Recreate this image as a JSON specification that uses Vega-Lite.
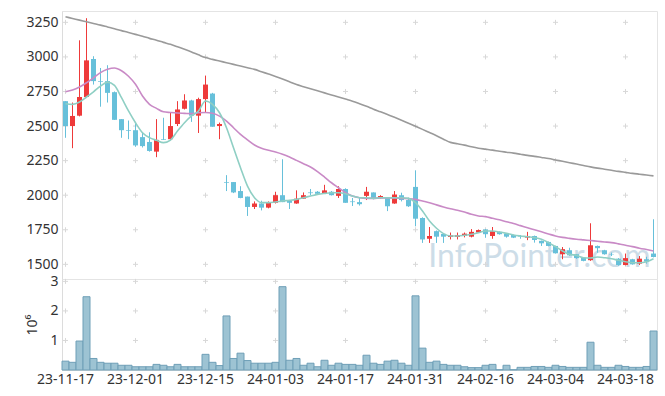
{
  "$schema": "https://vega.github.io/schema/vega-lite/v6.json",
  "autosize": {"type": "pad"},
  "padding": {"left": 25, "top": 10, "right": 9, "bottom": 0},
  "background": "white",
  "bounds": "flush",
  "config": {
    "view": {"stroke": "#e4e4e4"},
    "font": "Noto Sans",
    "axis": {"labelFont": "Noto Sans", "labelFontSize": 14, "labelColor": "#333", "domainColor": "#dcdcdc", "ticks": false, "grid": false, "titleFont": "Noto Sans", "labelOverlap": false}
  },
  "datasets": {
    "p": [
      {"d":"23-11-17","o":2680,"h":2680,"l":2415,"c":2500,"v":0.30,"m5":2661,"m20":2748,"m60":3290},
      {"d":"23-11-20","o":2500,"h":2670,"l":2340,"c":2573,"v":0.26,"m5":2657,"m20":2760,"m60":3278},
      {"d":"23-11-21","o":2575,"h":3120,"l":2570,"c":2710,"v":0.98,"m5":2674,"m20":2782,"m60":3266},
      {"d":"23-11-22","o":2710,"h":3280,"l":2710,"c":2975,"v":2.48,"m5":2710,"m20":2813,"m60":3254},
      {"d":"23-11-23","o":2985,"h":3005,"l":2800,"c":2825,"v":0.39,"m5":2748,"m20":2849,"m60":3242},
      {"d":"23-11-24","o":2825,"h":2920,"l":2640,"c":2820,"v":0.26,"m5":2789,"m20":2886,"m60":3230},
      {"d":"23-11-27","o":2825,"h":2940,"l":2670,"c":2740,"v":0.23,"m5":2818,"m20":2910,"m60":3217},
      {"d":"23-11-28","o":2745,"h":2750,"l":2545,"c":2545,"v":0.23,"m5":2794,"m20":2920,"m60":3204},
      {"d":"23-11-29","o":2550,"h":2550,"l":2415,"c":2470,"v":0.16,"m5":2705,"m20":2900,"m60":3190},
      {"d":"23-11-30","o":2470,"h":2540,"l":2405,"c":2465,"v":0.16,"m5":2609,"m20":2860,"m60":3177},
      {"d":"23-12-01","o":2470,"h":2515,"l":2350,"c":2360,"v":0.11,"m5":2524,"m20":2802,"m60":3163},
      {"d":"23-12-04","o":2420,"h":2455,"l":2345,"c":2355,"v":0.11,"m5":2452,"m20":2717,"m60":3149},
      {"d":"23-12-05","o":2385,"h":2455,"l":2315,"c":2320,"v":0.11,"m5":2416,"m20":2657,"m60":3134},
      {"d":"23-12-06","o":2315,"h":2550,"l":2275,"c":2400,"v":0.19,"m5":2397,"m20":2628,"m60":3120},
      {"d":"23-12-07","o":2405,"h":2560,"l":2400,"c":2400,"v":0.16,"m5":2380,"m20":2603,"m60":3105},
      {"d":"23-12-08","o":2405,"h":2595,"l":2400,"c":2500,"v":0.11,"m5":2399,"m20":2598,"m60":3091},
      {"d":"23-12-11","o":2515,"h":2680,"l":2500,"c":2620,"v":0.19,"m5":2464,"m20":2594,"m60":3073},
      {"d":"23-12-12","o":2625,"h":2730,"l":2620,"c":2685,"v":0.11,"m5":2524,"m20":2592,"m60":3055},
      {"d":"23-12-13","o":2685,"h":2690,"l":2530,"c":2575,"v":0.11,"m5":2573,"m20":2590,"m60":3036},
      {"d":"23-12-14","o":2575,"h":2705,"l":2450,"c":2695,"v":0.11,"m5":2609,"m20":2596,"m60":3015},
      {"d":"23-12-15","o":2695,"h":2865,"l":2595,"c":2800,"v":0.53,"m5":2681,"m20":2598,"m60":2995},
      {"d":"23-12-18","o":2735,"h":2740,"l":2495,"c":2495,"v":0.26,"m5":2657,"m20":2592,"m60":2982},
      {"d":"23-12-19","o":2500,"h":2525,"l":2405,"c":2515,"v":0.15,"m5":2596,"m20":2572,"m60":2970},
      {"d":"23-12-20","o":2095,"h":2145,"l":2030,"c":2090,"v":1.83,"m5":2488,"m20":2536,"m60":2958},
      {"d":"23-12-21","o":2095,"h":2095,"l":2015,"c":2020,"v":0.39,"m5":2343,"m20":2488,"m60":2946},
      {"d":"23-12-22","o":2030,"h":2065,"l":1978,"c":1980,"v":0.57,"m5":2199,"m20":2440,"m60":2934},
      {"d":"23-12-26","o":1990,"h":1990,"l":1850,"c":1915,"v":0.32,"m5":2066,"m20":2400,"m60":2922},
      {"d":"23-12-27","o":1915,"h":1955,"l":1900,"c":1940,"v":0.23,"m5":1982,"m20":2363,"m60":2910},
      {"d":"23-12-28","o":1940,"h":1960,"l":1890,"c":1910,"v":0.23,"m5":1946,"m20":2339,"m60":2893},
      {"d":"24-01-02","o":1910,"h":1955,"l":1905,"c":1950,"v":0.23,"m5":1946,"m20":2325,"m60":2876},
      {"d":"24-01-03","o":1945,"h":2025,"l":1940,"c":2000,"v":0.26,"m5":1951,"m20":2312,"m60":2859},
      {"d":"24-01-04","o":2000,"h":2260,"l":1950,"c":1950,"v":2.82,"m5":1958,"m20":2296,"m60":2840},
      {"d":"24-01-05","o":1960,"h":1960,"l":1900,"c":1945,"v":0.33,"m5":1963,"m20":2276,"m60":2820},
      {"d":"24-01-08","o":1940,"h":2035,"l":1938,"c":1975,"v":0.39,"m5":1970,"m20":2252,"m60":2800},
      {"d":"24-01-09","o":1975,"h":2020,"l":1975,"c":2000,"v":0.16,"m5":1982,"m20":2228,"m60":2785},
      {"d":"24-01-10","o":2020,"h":2045,"l":2000,"c":2015,"v":0.23,"m5":1994,"m20":2204,"m60":2770},
      {"d":"24-01-11","o":2025,"h":2030,"l":2008,"c":2010,"v":0.11,"m5":2006,"m20":2170,"m60":2755},
      {"d":"24-01-12","o":2010,"h":2075,"l":2010,"c":2035,"v":0.33,"m5":2013,"m20":2131,"m60":2740},
      {"d":"24-01-15","o":2025,"h":2030,"l":1998,"c":2000,"v":0.16,"m5":2018,"m20":2090,"m60":2725},
      {"d":"24-01-16","o":1995,"h":2065,"l":1980,"c":2045,"v":0.23,"m5":2018,"m20":2054,"m60":2710},
      {"d":"24-01-17","o":2045,"h":2050,"l":1945,"c":1945,"v":0.19,"m5":2011,"m20":2018,"m60":2695},
      {"d":"24-01-18","o":1955,"h":1980,"l":1922,"c":1950,"v":0.19,"m5":1994,"m20":1994,"m60":2680},
      {"d":"24-01-19","o":1950,"h":1980,"l":1925,"c":1935,"v":0.16,"m5":1982,"m20":1982,"m60":2662},
      {"d":"24-01-22","o":1995,"h":2060,"l":1965,"c":2025,"v":0.50,"m5":1982,"m20":1977,"m60":2643},
      {"d":"24-01-23","o":2020,"h":2020,"l":1970,"c":1975,"v":0.23,"m5":1977,"m20":1977,"m60":2622},
      {"d":"24-01-24","o":1978,"h":2000,"l":1975,"c":1994,"v":0.19,"m5":1982,"m20":1980,"m60":2603},
      {"d":"24-01-25","o":1982,"h":1985,"l":1885,"c":1920,"v":0.30,"m5":1982,"m20":1980,"m60":2583},
      {"d":"24-01-26","o":1940,"h":2030,"l":1938,"c":2005,"v":0.33,"m5":1982,"m20":1980,"m60":2563},
      {"d":"24-01-29","o":2000,"h":2018,"l":1955,"c":1965,"v":0.23,"m5":1982,"m20":1977,"m60":2542},
      {"d":"24-01-30","o":1965,"h":1982,"l":1915,"c":1920,"v":0.16,"m5":1977,"m20":1975,"m60":2520},
      {"d":"24-01-31","o":2060,"h":2180,"l":1775,"c":1830,"v":2.51,"m5":1946,"m20":1970,"m60":2498},
      {"d":"24-02-01","o":1835,"h":1840,"l":1655,"c":1680,"v":0.74,"m5":1886,"m20":1958,"m60":2476},
      {"d":"24-02-02","o":1685,"h":1770,"l":1655,"c":1705,"v":0.26,"m5":1813,"m20":1946,"m60":2453},
      {"d":"24-02-05","o":1740,"h":1745,"l":1655,"c":1700,"v":0.30,"m5":1761,"m20":1930,"m60":2430},
      {"d":"24-02-06","o":1720,"h":1725,"l":1655,"c":1700,"v":0.19,"m5":1722,"m20":1915,"m60":2405},
      {"d":"24-02-07","o":1698,"h":1730,"l":1680,"c":1710,"v":0.16,"m5":1705,"m20":1902,"m60":2382},
      {"d":"24-02-08","o":1698,"h":1730,"l":1680,"c":1712,"v":0.16,"m5":1705,"m20":1891,"m60":2372},
      {"d":"24-02-13","o":1705,"h":1730,"l":1695,"c":1722,"v":0.11,"m5":1710,"m20":1878,"m60":2362},
      {"d":"24-02-14","o":1700,"h":1755,"l":1695,"c":1735,"v":0.08,"m5":1717,"m20":1862,"m60":2350},
      {"d":"24-02-15","o":1730,"h":1752,"l":1728,"c":1748,"v":0.08,"m5":1729,"m20":1850,"m60":2340},
      {"d":"24-02-16","o":1752,"h":1755,"l":1692,"c":1718,"v":0.16,"m5":1741,"m20":1845,"m60":2333},
      {"d":"24-02-19","o":1705,"h":1770,"l":1685,"c":1740,"v":0.19,"m5":1741,"m20":1833,"m60":2326},
      {"d":"24-02-20","o":1735,"h":1738,"l":1715,"c":1718,"v":0.01,"m5":1734,"m20":1822,"m60":2318},
      {"d":"24-02-21","o":1722,"h":1725,"l":1693,"c":1700,"v":0.16,"m5":1724,"m20":1808,"m60":2311},
      {"d":"24-02-22","o":1712,"h":1715,"l":1690,"c":1693,"v":0.01,"m5":1712,"m20":1795,"m60":2304},
      {"d":"24-02-23","o":1702,"h":1712,"l":1685,"c":1698,"v":0.09,"m5":1705,"m20":1780,"m60":2296},
      {"d":"24-02-26","o":1693,"h":1735,"l":1675,"c":1705,"v":0.09,"m5":1700,"m20":1765,"m60":2288},
      {"d":"24-02-27","o":1705,"h":1708,"l":1657,"c":1676,"v":0.12,"m5":1693,"m20":1750,"m60":2281},
      {"d":"24-02-28","o":1670,"h":1672,"l":1633,"c":1652,"v":0.12,"m5":1681,"m20":1735,"m60":2273},
      {"d":"24-02-29","o":1662,"h":1665,"l":1630,"c":1633,"v":0.09,"m5":1657,"m20":1720,"m60":2265},
      {"d":"24-03-04","o":1633,"h":1635,"l":1578,"c":1580,"v":0.16,"m5":1628,"m20":1705,"m60":2255},
      {"d":"24-03-05","o":1573,"h":1625,"l":1537,"c":1610,"v":0.12,"m5":1597,"m20":1695,"m60":2245},
      {"d":"24-03-06","o":1602,"h":1620,"l":1562,"c":1565,"v":0.09,"m5":1573,"m20":1688,"m60":2235},
      {"d":"24-03-07","o":1573,"h":1575,"l":1540,"c":1545,"v":0.09,"m5":1565,"m20":1682,"m60":2225},
      {"d":"24-03-08","o":1548,"h":1550,"l":1522,"c":1525,"v":0.09,"m5":1548,"m20":1677,"m60":2215},
      {"d":"24-03-11","o":1530,"h":1797,"l":1525,"c":1638,"v":0.94,"m5":1546,"m20":1672,"m60":2205},
      {"d":"24-03-12","o":1633,"h":1636,"l":1584,"c":1617,"v":0.16,"m5":1553,"m20":1667,"m60":2196},
      {"d":"24-03-13","o":1602,"h":1605,"l":1570,"c":1573,"v":0.09,"m5":1548,"m20":1662,"m60":2188},
      {"d":"24-03-14","o":1575,"h":1585,"l":1560,"c":1572,"v":0.09,"m5":1541,"m20":1657,"m60":2180},
      {"d":"24-03-15","o":1541,"h":1545,"l":1490,"c":1495,"v":0.16,"m5":1529,"m20":1648,"m60":2172},
      {"d":"24-03-18","o":1495,"h":1578,"l":1493,"c":1545,"v":0.12,"m5":1519,"m20":1638,"m60":2165},
      {"d":"24-03-19","o":1537,"h":1540,"l":1498,"c":1500,"v":0.09,"m5":1512,"m20":1628,"m60":2158},
      {"d":"24-03-20","o":1505,"h":1560,"l":1495,"c":1541,"v":0.09,"m5":1512,"m20":1617,"m60":2152},
      {"d":"24-03-21","o":1537,"h":1555,"l":1505,"c":1520,"v":0.12,"m5":1519,"m20":1607,"m60":2146},
      {"d":"24-03-22","o":1578,"h":1826,"l":1550,"c":1553,"v":1.32,"m5":1541,"m20":1597,"m60":2140}
    ],
    "g": [
      {"d":"23-11-17","ys":[1500,1750,2000,2250,2500,2750,3000,3250],"vs":[1,2,3]},
      {"d":"23-12-01","ys":[1500,1750,2000,2250,2500,2750,3000,3250],"vs":[1,2,3]},
      {"d":"23-12-15","ys":[1500,1750,2000,2250,2500,2750,3000,3250],"vs":[1,2,3]},
      {"d":"24-01-03","ys":[1500,1750,2000,2250,2500,2750,3000,3250],"vs":[1,2,3]},
      {"d":"24-01-17","ys":[1500,1750,2000,2250,2500,2750,3000,3250],"vs":[1,2,3]},
      {"d":"24-01-31","ys":[1500,1750,2000,2250,2500,2750,3000,3250],"vs":[1,2,3]},
      {"d":"24-02-16","ys":[1500,1750,2000,2250,2500,2750,3000,3250],"vs":[1,2,3]},
      {"d":"24-03-04","ys":[1500,1750,2000,2250,2500,2750,3000,3250],"vs":[1,2,3]},
      {"d":"24-03-18","ys":[1500,1750,2000,2250,2500,2750,3000,3250],"vs":[1,2,3]}
    ]
  },
  "spacing": 0,
  "vconcat": [
    {
      "width": 595,
      "height": 268,
      "data": {"name": "p"},
      "encoding": {
        "x": {"field": "d", "type": "ordinal", "scale": {"paddingInner": 0, "paddingOuter": 0}, "axis": null}
      },
      "layer": [
        {
          "data": {"values": [{}]},
          "mark": {"type": "text", "align": "right", "baseline": "alphabetic", "dx": -3, "font": "Lato", "fontSize": 32, "color": "#cddde8"},
          "encoding": {
            "x": {"datum": "24-03-22", "type": "ordinal"},
            "y": {"datum": 1481, "type": "quantitative", "axis": {"values": [1500,1750,2000,2250,2500,2750,3000,3250], "format": "d", "title": null, "labelPadding": 4}},
            "text": {"value": "InfoPointer.com"}
          }
        },
        {
          "data": {"name": "g"},
          "transform": [{"flatten": ["ys"]}],
          "mark": {"type": "point", "shape": "M-1,0H1M0,-1V1", "size": 25, "stroke": "#d8d8d8", "strokeWidth": 1, "filled": false, "opacity": 1},
          "encoding": {
            "x": {"field": "d", "type": "ordinal"},
            "y": {"field": "ys", "type": "quantitative", "axis": {"values": [1500,1750,2000,2250,2500,2750,3000,3250], "format": "d", "title": null, "labelPadding": 4}}
          }
        },
        {
          "mark": {"type": "rule", "strokeWidth": 1},
          "encoding": {
            "y": {"field": "l", "type": "quantitative", "scale": {"domain": [1394, 3332], "nice": false, "zero": false},
                  "axis": {"values": [1500,1750,2000,2250,2500,2750,3000,3250], "format": "d", "title": null, "labelPadding": 4}},
            "y2": {"field": "h"},
            "color": {"condition": {"test": "datum.c >= datum.o", "value": "#ee3a3a"}, "value": "#67c0da"}
          }
        },
        {
          "mark": {"type": "bar", "size": 5},
          "encoding": {
            "y": {"field": "o", "type": "quantitative", "axis": {"values": [1500,1750,2000,2250,2500,2750,3000,3250], "format": "d", "title": null, "labelPadding": 4}},
            "y2": {"field": "c"},
            "color": {"condition": {"test": "datum.c >= datum.o", "value": "#ee3a3a"}, "value": "#67c0da"}
          }
        },
        {
          "mark": {"type": "line", "color": "#9a9a9a", "strokeWidth": 1.6, "interpolate": "monotone"},
          "encoding": {"y": {"field": "m60", "type": "quantitative", "axis": {"values": [1500,1750,2000,2250,2500,2750,3000,3250], "format": "d", "title": null, "labelPadding": 4}}}
        },
        {
          "mark": {"type": "line", "color": "#c98ac6", "strokeWidth": 1.6, "interpolate": "monotone"},
          "encoding": {"y": {"field": "m20", "type": "quantitative", "axis": {"values": [1500,1750,2000,2250,2500,2750,3000,3250], "format": "d", "title": null, "labelPadding": 4}}}
        },
        {
          "mark": {"type": "line", "color": "#8fcfc4", "strokeWidth": 1.6, "interpolate": "monotone"},
          "encoding": {"y": {"field": "m5", "type": "quantitative", "axis": {"values": [1500,1750,2000,2250,2500,2750,3000,3250], "format": "d", "title": null, "labelPadding": 4}}}
        }
      ]
    },
    {
      "width": 595,
      "height": 91,
      "data": {"name": "p"},
      "encoding": {
        "x": {"field": "d", "type": "ordinal", "scale": {"paddingInner": 0, "paddingOuter": 0},
              "axis": {"values": ["23-11-17","23-12-01","23-12-15","24-01-03","24-01-17","24-01-31","24-02-16","24-03-04","24-03-18"], "labelAngle": 0, "title": null, "labelPadding": 2}}
      },
      "layer": [
        {
          "data": {"name": "g"},
          "transform": [{"flatten": ["vs"]}],
          "mark": {"type": "point", "shape": "M-1,0H1M0,-1V1", "size": 25, "stroke": "#d8d8d8", "strokeWidth": 1, "filled": false, "opacity": 1},
          "encoding": {
            "x": {"field": "d", "type": "ordinal"},
            "y": {"field": "vs", "type": "quantitative", "axis": {"values": [1, 2, 3], "format": "d", "title": "10⁶", "titleFontWeight": "normal", "titleFontSize": 14, "titleColor": "#333", "labelPadding": 4, "titlePadding": 10}}
          }
        },
        {
          "mark": {"type": "bar", "fill": "#9dc3d3", "stroke": "#6f9fb7", "strokeWidth": 1},
          "encoding": {
            "y": {"field": "v", "type": "quantitative", "scale": {"domain": [0, 3.08], "nice": false},
                  "axis": {"values": [1, 2, 3], "format": "d", "title": "10⁶", "titleFontWeight": "normal", "titleFontSize": 14, "titleColor": "#333", "labelPadding": 4, "titlePadding": 10}}
          }
        }
      ]
    }
  ]
}
